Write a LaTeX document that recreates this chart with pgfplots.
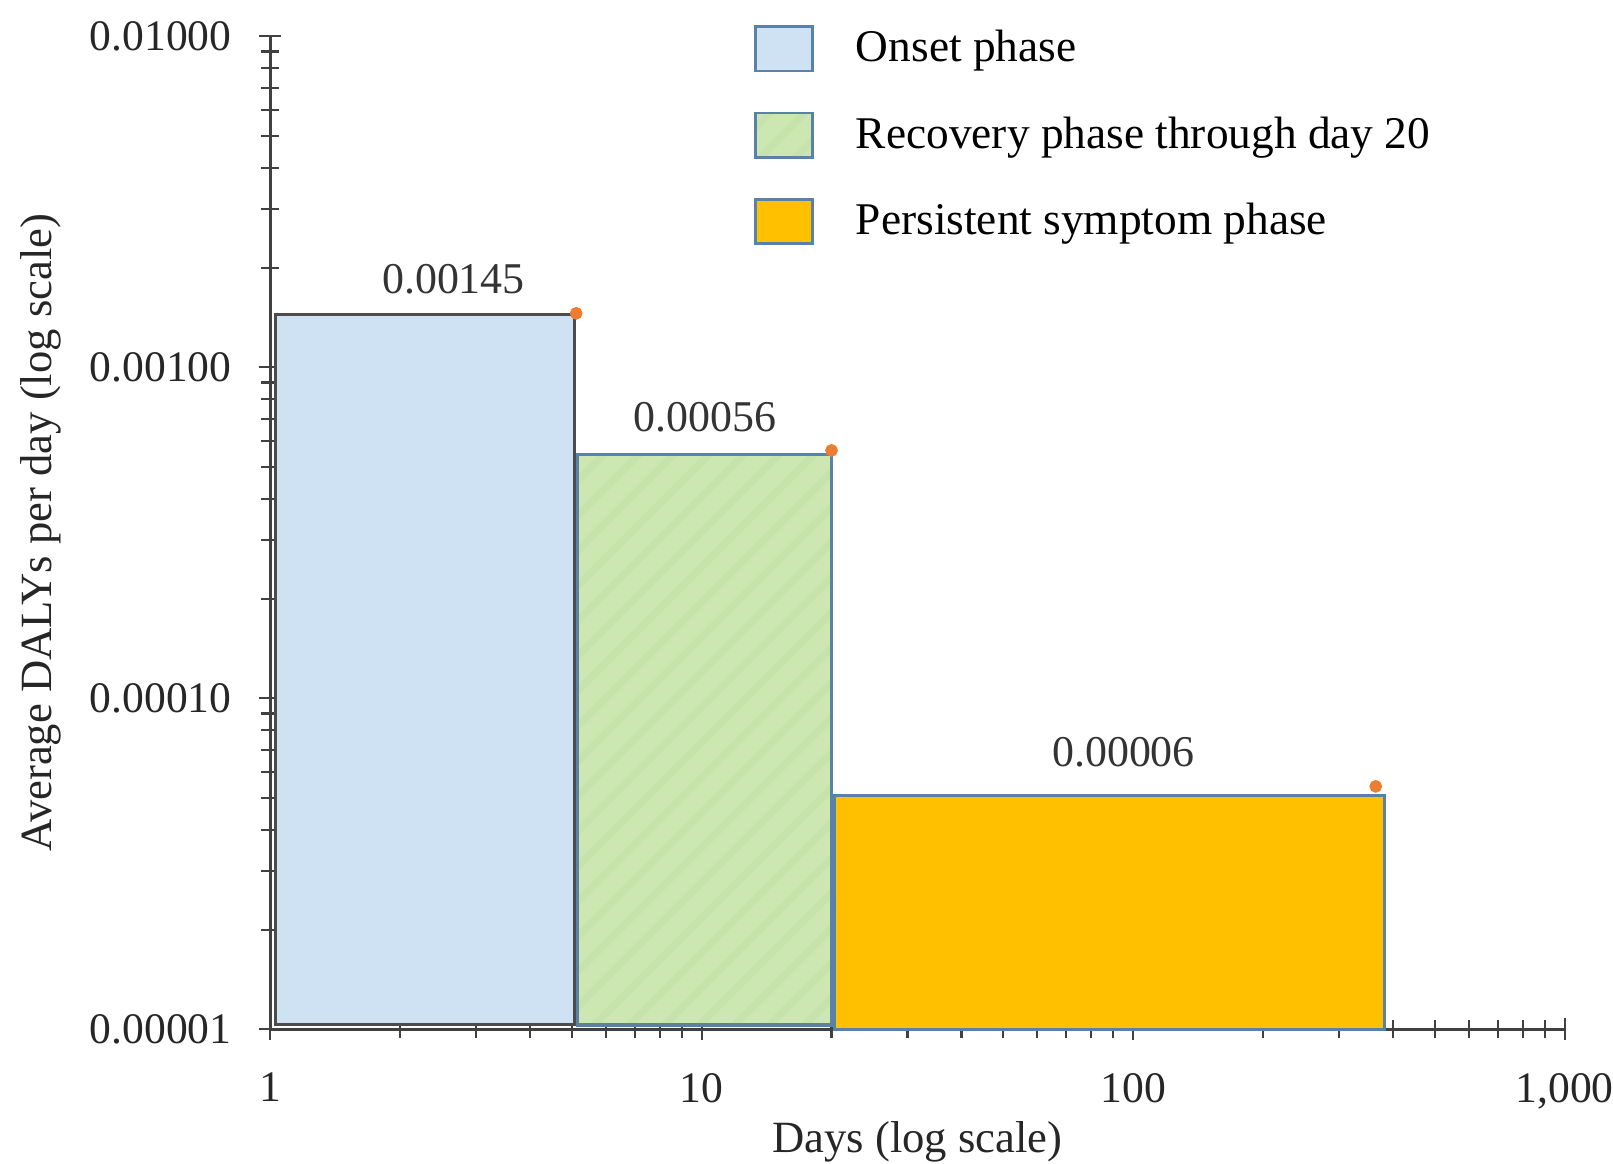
\documentclass[border=0pt]{standalone}
\usepackage{fontspec}
\setmainfont{Liberation Serif}
\usepackage{pgfplots}
\pgfplotsset{compat=1.18}
\usetikzlibrary{patterns.meta}
\definecolor{onsetfill}{RGB}{207,226,243}
\definecolor{recfill}{RGB}{204,231,178}
\definecolor{rechatch}{RGB}{198,227,171}
\definecolor{persfill}{RGB}{255,192,0}
\definecolor{barblue}{RGB}{90,130,168}
\definecolor{dotorange}{RGB}{237,125,49}
\pgfplotsset{legsq/.style={legend image code/.code={\draw[##1,draw=barblue,line width=0.8pt] (0cm,-0.22cm) rectangle (0.56cm,0.22cm);}}}
\begin{document}
\begin{tikzpicture}
\useasboundingbox (-2.68,-1.33) rectangle (13.32,10.21);
\begin{axis}[
  at={(0,0)}, anchor=south west,
  scale only axis, width=12.84cm, height=9.85cm,
  xmode=log, ymode=log,
  xmin=1, xmax=1000, ymin=1e-5, ymax=1e-2,
  clip=false,
  axis x line=bottom, axis y line=left,
  axis line style={-, draw=black!75, line width=0.9pt},
  xtick={1,10,100,1000}, xticklabels={1,10,100,{1,000}},
  ytick={1e-5,1e-4,1e-3,1e-2}, yticklabels={0.00001,0.00010,0.00100,0.01000},
  tick align=center, major tick length=0.22cm, minor tick length=0.18cm,
  tick style={black!75, line width=0.6pt},
  every tick label/.append style={font=\fontsize{12.3}{14}\selectfont, text=black!85},
  x tick label style={yshift=-0.2cm},
  y tick label style={xshift=-0.15cm},
  xlabel={Days (log scale)}, ylabel={Average DALYs per day (log scale)},
  label style={font=\fontsize{12.6}{15}\selectfont, text=black!85},
  xlabel style={at={(axis description cs:0.5,-0.113)}, anchor=center},
  ylabel style={at={(axis description cs:-0.177,0.5)}, anchor=center},
  legend style={draw=none, fill=none, at={(axis description cs:0.374,1.013)}, anchor=north west,
    inner sep=0pt, outer sep=0pt, row sep=0.35cm, font=\fontsize{12.8}{15}\selectfont,
    /tikz/every odd column/.style={column sep=0.35cm}},
  legend cell align=left,
]
\addplot[legsq, fill=onsetfill, draw=black!70, line width=0.9pt] coordinates {(1.027,1.035e-5) (1.027,1.445e-3) (5.07,1.445e-3) (5.07,1.035e-5)} -- cycle;
\addlegendentry{Onset phase}
\addplot[legsq, fill=recfill, draw=barblue, line width=0.9pt, postaction={pattern={Lines[angle=45,distance=7pt,line width=2pt]}, pattern color=rechatch}] coordinates {(5.15,1.03e-5) (5.15,5.46e-4) (20.0,5.46e-4) (20.0,1.03e-5)} -- cycle;
\addlegendentry{Recovery phase through day 20}
\addplot[legsq, fill=persfill, draw=barblue, line width=0.9pt] coordinates {(20.3,1.0e-5) (20.3,5.09e-5) (383,5.09e-5) (383,1.0e-5)} -- cycle;
\addlegendentry{Persistent symptom phase}
\addplot[only marks, mark=*, mark size=1.6pt, color=dotorange, forget plot] coordinates {(5.12,1.456e-3) (20.0,5.61e-4) (365,5.42e-5)};
\node[font=\fontsize{12.4}{14}\selectfont, text=black!80] at (axis cs:2.66,1.845e-3) {0.00145};
\node[font=\fontsize{12.4}{14}\selectfont, text=black!80] at (axis cs:10.2,7.06e-4) {0.00056};
\node[font=\fontsize{12.4}{14}\selectfont, text=black!80] at (axis cs:95,6.87e-5) {0.00006};
\end{axis}
\end{tikzpicture}
\end{document}
